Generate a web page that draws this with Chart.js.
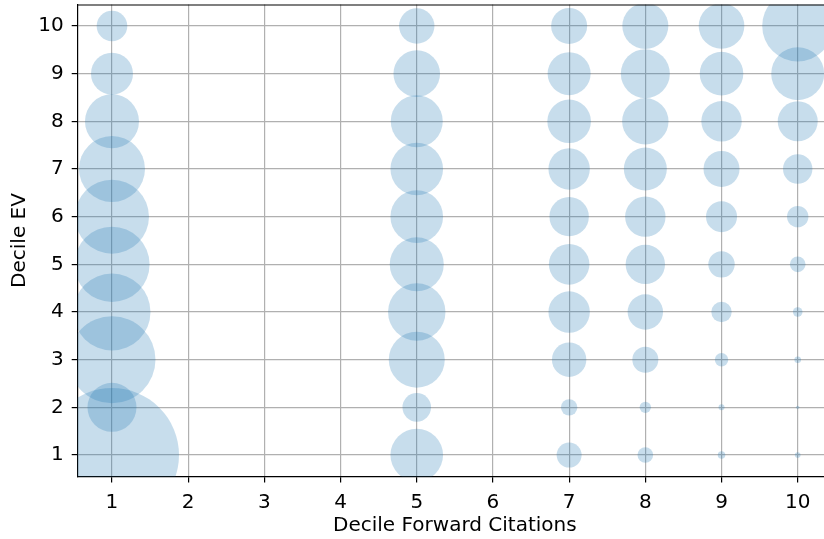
<!DOCTYPE html>
<html lang="en">
<head>
    <meta charset="UTF-8">
    <title>Decile EV vs Decile Forward Citations</title>
    <script src="https://cdn.jsdelivr.net/npm/chart.js@4.4.1/dist/chart.umd.min.js"></script>
    <style>
        body {
            margin: 0;
            padding: 0;
            background: #ffffff;
            overflow: hidden;
        }
        #wrap {
            width: 824px;
            height: 539px;
            overflow: hidden;
        }
        #bubbleChart {
            display: block;
            width: 832px;
            height: 539px;
        }
    </style>
</head>
<body>
    <div id="wrap">
        <canvas id="bubbleChart" width="832" height="539"></canvas>
    </div>
    <script>
        // Deciles that appear on each axis
        const citationDeciles = [1, 5, 7, 8, 9, 10];
        const evDeciles = [1, 2, 3, 4, 5, 6, 7, 8, 9, 10];
        const xTickLabels = [1, 2, 3, 4, 5, 6, 7, 8, 9, 10];
        const yTickLabels = [1, 2, 3, 4, 5, 6, 7, 8, 9, 10];

        // bubble size (area) for each EV decile 1..10, one list per citation decile
        const countsCit1 = [4489, 600, 1892, 1482, 1414, 1369, 1089, 729, 441, 234];
        const countsCit5 = [692, 204, 784, 824, 729, 692, 692, 676, 543, 313];
        const countsCit7 = [156, 67, 296, 428, 412, 388, 428, 475, 462, 324];
        const countsCit8 = [61, 32, 169, 313, 388, 408, 462, 538, 600, 529];
        const countsCit9 = [14, 9, 45, 104, 174, 240, 324, 408, 475, 520];
        const countsCit10 = [8, 3, 11, 23, 61, 114, 216, 400, 702, 1260];

        const countsByCit = [countsCit1, countsCit5, countsCit7, countsCit8, countsCit9, countsCit10];

        // build bubble points: radius grows with sqrt of the count (area scaling)
        const points = [];
        citationDeciles.forEach((cx, i) => {
            evDeciles.forEach((ev, j) => {
                points.push({ x: cx, y: ev, r: Math.sqrt(countsByCit[i][j]) });
            });
        });

        // matplotlib-like frame: top/right spine
        const framePlugin = {
            id: 'frame',
            afterDraw(chart) {
                const a = chart.chartArea;
                const ctx = chart.ctx;
                ctx.save();
                ctx.strokeStyle = '#000';
                ctx.lineWidth = 1.2;
                ctx.beginPath();
                ctx.moveTo(a.left, a.top + 0.5);
                ctx.lineTo(a.right, a.top + 0.5);
                ctx.moveTo(a.right - 0.5, a.top);
                ctx.lineTo(a.right - 0.5, a.bottom);
                ctx.stroke();
                ctx.restore();
            }
        };

        const fontSpec = { family: 'DejaVu Sans', size: 20 };

        const ctx = document.getElementById('bubbleChart').getContext('2d');
        const chart = new Chart(ctx, {
            type: 'bubble',
            data: {
                datasets: [{
                    data: points,
                    backgroundColor: 'rgba(31, 119, 180, 0.25)',
                    borderWidth: 0,
                    hoverBorderWidth: 0,
                    clip: 0
                }]
            },
            options: {
                responsive: false,
                maintainAspectRatio: false,
                animation: false,
                devicePixelRatio: 1,
                layout: {
                    autoPadding: false,
                    padding: { top: 4.5, right: 0, bottom: 0, left: 0 }
                },
                plugins: {
                    legend: { display: false },
                    tooltip: { enabled: false }
                },
                scales: {
                    x: {
                        type: 'linear',
                        min: 0.55,
                        max: 10.45,
                        z: 1,
                        afterBuildTicks: (scale) => {
                            scale.ticks = xTickLabels.map(v => ({ value: v }));
                        },
                        afterFit: (scale) => {
                            scale.height = 62.5;
                            scale.paddingLeft = 0;
                            scale.paddingRight = 0;
                        },
                        ticks: {
                            color: '#000',
                            font: fontSpec,
                            padding: 8,
                            maxRotation: 0,
                            callback: (v) => String(v)
                        },
                        grid: {
                            color: '#b0b0b0',
                            lineWidth: 1.2,
                            tickColor: '#000',
                            tickLength: 6,
                            tickWidth: 1.2
                        },
                        border: { color: '#000', width: 1.2 },
                        title: {
                            display: true,
                            text: 'Decile Forward Citations',
                            color: '#000',
                            font: fontSpec,
                            padding: { top: 0, bottom: 1 }
                        }
                    },
                    y: {
                        type: 'linear',
                        min: 0.55,
                        max: 10.45,
                        z: 1,
                        afterBuildTicks: (scale) => {
                            scale.ticks = yTickLabels.map(v => ({ value: v }));
                        },
                        afterFit: (scale) => {
                            scale.width = 77.7;
                            scale.paddingTop = 0;
                            scale.paddingBottom = 0;
                        },
                        ticks: {
                            color: '#000',
                            font: fontSpec,
                            padding: 8,
                            callback: (v) => String(v)
                        },
                        grid: {
                            color: '#b0b0b0',
                            lineWidth: 1.2,
                            tickColor: '#000',
                            tickLength: 6,
                            tickWidth: 1.2
                        },
                        border: { color: '#000', width: 1.2 },
                        title: {
                            display: true,
                            text: 'Decile EV',
                            color: '#000',
                            font: fontSpec,
                            padding: { top: 8, bottom: 0 }
                        }
                    }
                }
            },
            plugins: [framePlugin]
        });
    </script>
</body>
</html>
